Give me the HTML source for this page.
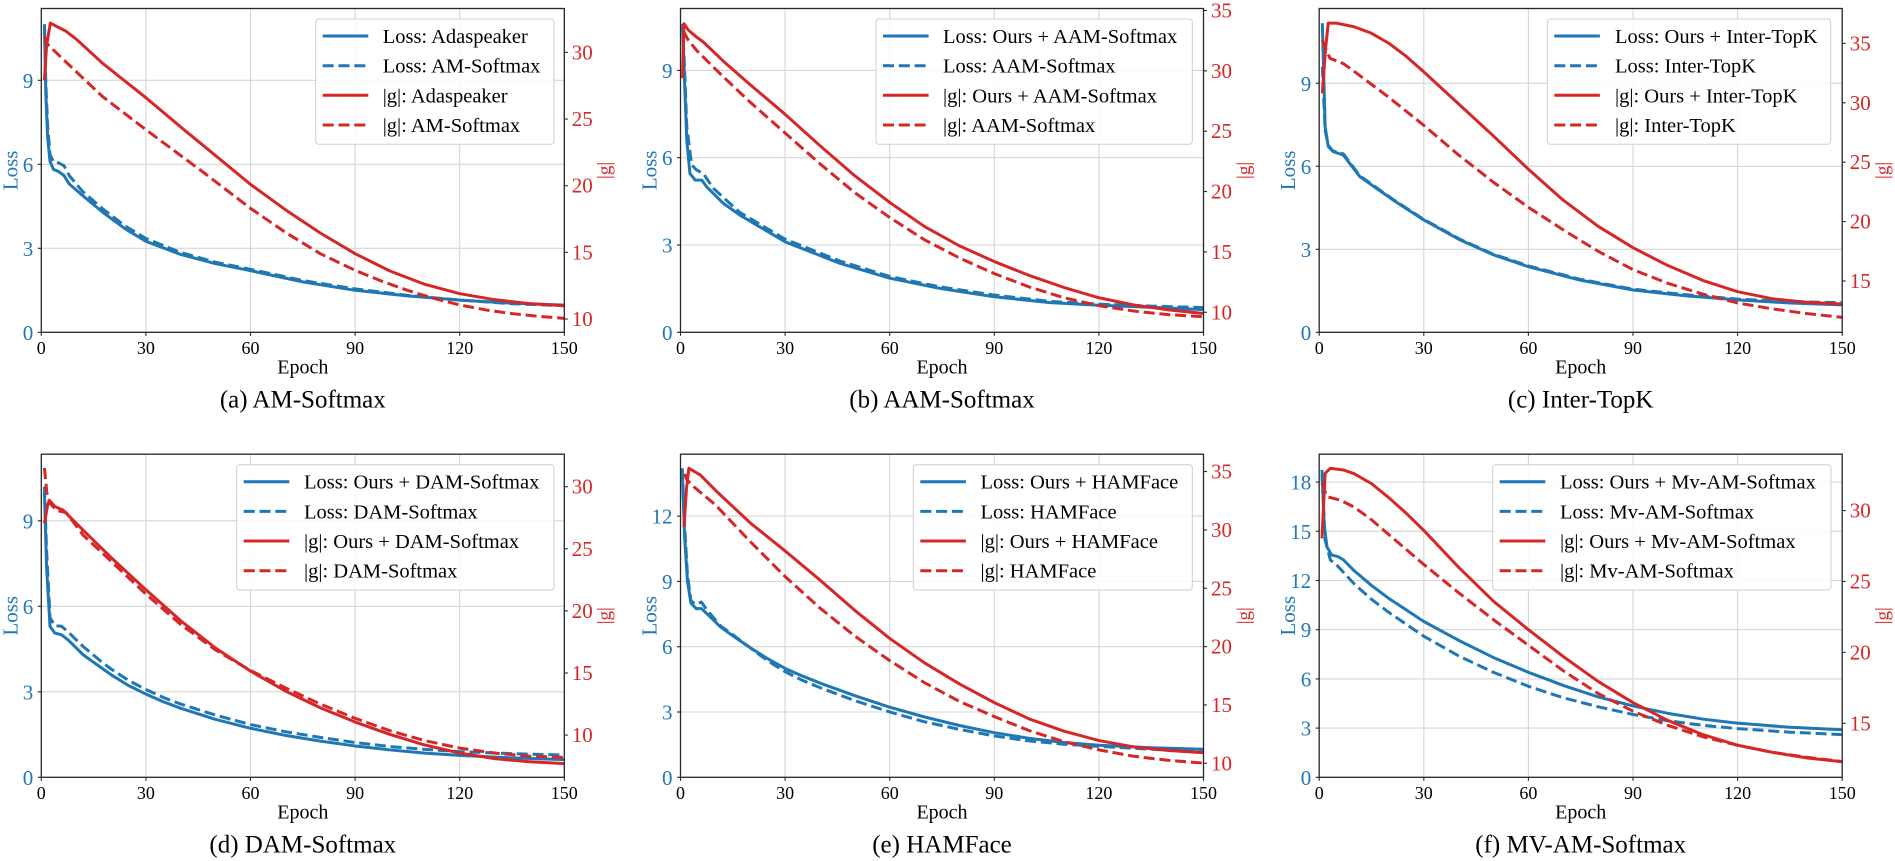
<!DOCTYPE html>
<html><head><meta charset="utf-8"><style>
html,body{margin:0;padding:0;background:#fff;}
svg{display:block;}
text{font-family:"Liberation Serif","Times New Roman",serif;}
.gr{stroke:#d6d6d6;stroke-width:1.1;}
.sp{fill:none;stroke:#262626;stroke-width:1.3;}
.tk{stroke:#262626;stroke-width:1.1;}
.c{fill:none;stroke-width:3;vector-effect:non-scaling-stroke;stroke-linejoin:round;}
.b{stroke:#1f77b4;} .r{stroke:#d62728;}
.d{stroke-dasharray:11 4.8;}
.lb{fill:#1f77b4;font-size:21px;text-anchor:end;}
.lr{fill:#d62728;font-size:21px;}
.xt{fill:#000;font-size:18px;text-anchor:middle;}
.ep{fill:#000;font-size:20px;text-anchor:middle;}
.cap{fill:#000;font-size:25px;text-anchor:middle;}
.yl{fill:#1f77b4;font-size:21px;text-anchor:middle;}
.gl{fill:#d62728;font-size:19px;text-anchor:middle;}
.lg{fill:#fff;fill-opacity:0.85;stroke:#cfcfcf;stroke-width:1;}
.lt{fill:#000;font-size:20.5px;}
.h{stroke-width:3;}
</style></head><body>
<svg width="1895" height="861" viewBox="0 0 1895 861" xmlns="http://www.w3.org/2000/svg">

<!-- ================= PANEL A ================= -->
<g>
<g class="gr">
<line x1="41.3" y1="248.3" x2="564.3" y2="248.3"/><line x1="41.3" y1="164.3" x2="564.3" y2="164.3"/><line x1="41.3" y1="80.3" x2="564.3" y2="80.3"/>
<line x1="145.9" y1="8.5" x2="145.9" y2="332.3"/><line x1="250.5" y1="8.5" x2="250.5" y2="332.3"/><line x1="355.1" y1="8.5" x2="355.1" y2="332.3"/><line x1="459.7" y1="8.5" x2="459.7" y2="332.3"/>
</g>
<g transform="translate(41.3,332.3) scale(3.487,-28)">
<polyline class="c b" points="0.9,11.0 1.3,8.5 1.8,7.0 2.5,6.1 3.5,5.82 5,5.74 6.5,5.6 8,5.3 11.7,4.9 17.5,4.3 24,3.7 30,3.25 40,2.78 50,2.45 60,2.2 75,1.8 90,1.5 105,1.3 120,1.15 135,1.04 150,0.97"/>
<polyline class="c b d" points="0.9,11.0 1.3,8.9 1.8,7.4 2.5,6.35 3.5,6.08 5,6.05 6.5,5.95 8,5.6 11.7,5.05 17.5,4.42 24,3.8 30,3.35 40,2.85 50,2.5 60,2.25 75,1.85 90,1.55 105,1.32 120,1.15 135,1.02 150,0.95"/>
</g>
<g transform="translate(41.3,452.3) scale(3.487,-13.33)">
<polyline class="c r" points="0.9,27.9 1.5,30.5 2.6,32.2 4,32.0 7,31.6 10,31.0 17.5,29.2 30,26.6 40,24.4 50,22.25 60,20.1 70,18.2 80,16.45 90,14.9 100,13.6 110,12.6 120,11.9 130,11.45 140,11.15 150,11.0"/>
<polyline class="c r d" points="0.9,31.2 1.5,30.7 3,30.3 5,29.8 7,29.3 17.5,26.7 30,24.2 47,20.9 60,18.3 70,16.5 80,14.9 90,13.65 97.5,12.85 105,12.15 112.5,11.55 120,11.05 127.5,10.68 135,10.4 142.5,10.2 150,10.05"/>
</g>
<rect class="sp" x="41.3" y="8.5" width="523" height="323.8"/>
<g class="tk">
<line x1="37.8" y1="332.3" x2="41.3" y2="332.3"/><line x1="37.8" y1="248.3" x2="41.3" y2="248.3"/><line x1="37.8" y1="164.3" x2="41.3" y2="164.3"/><line x1="37.8" y1="80.3" x2="41.3" y2="80.3"/>
<line x1="564.3" y1="319" x2="567.8" y2="319"/><line x1="564.3" y1="252.35" x2="567.8" y2="252.35"/><line x1="564.3" y1="185.7" x2="567.8" y2="185.7"/><line x1="564.3" y1="119.05" x2="567.8" y2="119.05"/><line x1="564.3" y1="52.4" x2="567.8" y2="52.4"/>
<line x1="41.3" y1="332.3" x2="41.3" y2="335.8"/><line x1="145.9" y1="332.3" x2="145.9" y2="335.8"/><line x1="250.5" y1="332.3" x2="250.5" y2="335.8"/><line x1="355.1" y1="332.3" x2="355.1" y2="335.8"/><line x1="459.7" y1="332.3" x2="459.7" y2="335.8"/><line x1="564.3" y1="332.3" x2="564.3" y2="335.8"/>
</g>
<text class="lb" x="33.3" y="339.8">0</text><text class="lb" x="33.3" y="255.8">3</text><text class="lb" x="33.3" y="171.8">6</text><text class="lb" x="33.3" y="87.8">9</text>
<text class="lr" x="571.8" y="326">10</text><text class="lr" x="571.8" y="259.35">15</text><text class="lr" x="571.8" y="192.7">20</text><text class="lr" x="571.8" y="126.05">25</text><text class="lr" x="571.8" y="59.4">30</text>
<text class="xt" x="41.3" y="354">0</text><text class="xt" x="145.9" y="354">30</text><text class="xt" x="250.5" y="354">60</text><text class="xt" x="355.1" y="354">90</text><text class="xt" x="459.7" y="354">120</text><text class="xt" x="564.3" y="354">150</text>
<text class="ep" x="302.8" y="373.3">Epoch</text>
<text class="cap" x="302.8" y="407.3">(a) AM-Softmax</text>
<text class="yl" transform="translate(17.3,170.4) rotate(-90)">Loss</text>
<text class="gl" transform="translate(610.6,170.4) rotate(-90)">|g|</text>
<rect class="lg" x="315.7" y="19" width="238.3" height="125.3" rx="3"/>
<line class="h b" x1="322.7" y1="36" x2="368.3" y2="36"/>
<line class="h b d" x1="322.7" y1="65.7" x2="368.3" y2="65.7"/>
<line class="h r" x1="322.7" y1="95.3" x2="368.3" y2="95.3"/>
<line class="h r d" x1="322.7" y1="125" x2="368.3" y2="125"/>
<text class="lt" x="382.7" y="43">Loss: Adaspeaker</text>
<text class="lt" x="382.7" y="72.7">Loss: AM-Softmax</text>
<text class="lt" x="382.7" y="102.3">|g|: Adaspeaker</text>
<text class="lt" x="382.7" y="132">|g|: AM-Softmax</text>
</g>

<!-- ================= PANEL B ================= -->
<g>
<g class="gr">
<line x1="680.5" y1="245" x2="1203.5" y2="245"/><line x1="680.5" y1="157.7" x2="1203.5" y2="157.7"/><line x1="680.5" y1="70.4" x2="1203.5" y2="70.4"/>
<line x1="785.1" y1="8.5" x2="785.1" y2="332.3"/><line x1="889.7" y1="8.5" x2="889.7" y2="332.3"/><line x1="994.3" y1="8.5" x2="994.3" y2="332.3"/><line x1="1098.9" y1="8.5" x2="1098.9" y2="332.3"/>
</g>
<g transform="translate(680.5,332.3) scale(3.487,-29.1)">
<polyline class="c b" points="0.6,10.5 1.2,8.5 1.8,6.6 2.7,5.46 4.2,5.23 6.1,5.23 7.5,5.0 12.3,4.43 17,4.03 30,3.11 45.7,2.37 60,1.86 74.4,1.51 90,1.22 106,1.02 120,0.93 135,0.86 150,0.78"/>
<polyline class="c b d" points="0.6,10.6 1.2,9.0 1.8,7.07 3.2,5.75 4.6,5.58 6.5,5.46 9.4,4.95 17,4.12 30,3.2 45.7,2.45 60,1.92 74.4,1.56 90,1.28 106,1.06 120,0.97 135,0.9 150,0.85"/>
</g>
<g transform="translate(680.5,432.96) scale(3.487,-12.07)">
<polyline class="c r" points="0.6,29.4 1.0,33.9 2.2,33.4 4.6,32.8 6.5,32.4 12.3,30.8 20,28.85 30,26.4 40,23.8 50,21.3 60,19.1 70,17.1 80,15.5 90,14.2 100,13.05 110,12.05 120,11.2 130,10.6 140,10.2 150,9.9"/>
<polyline class="c r d" points="0.8,33.3 2.2,32.56 4.6,31.7 12.3,29.5 20,27.4 30,24.85 40,22.3 50,19.9 60,17.85 70,16.0 80,14.5 90,13.2 100,12.1 110,11.2 120,10.55 130,10.1 140,9.8 150,9.63"/>
</g>
<rect class="sp" x="680.5" y="8.5" width="523" height="323.8"/>
<g class="tk">
<line x1="677" y1="332.3" x2="680.5" y2="332.3"/><line x1="677" y1="245" x2="680.5" y2="245"/><line x1="677" y1="157.7" x2="680.5" y2="157.7"/><line x1="677" y1="70.4" x2="680.5" y2="70.4"/>
<line x1="1203.5" y1="312.26" x2="1207" y2="312.26"/><line x1="1203.5" y1="251.91" x2="1207" y2="251.91"/><line x1="1203.5" y1="191.56" x2="1207" y2="191.56"/><line x1="1203.5" y1="131.21" x2="1207" y2="131.21"/><line x1="1203.5" y1="70.86" x2="1207" y2="70.86"/><line x1="1203.5" y1="10.51" x2="1207" y2="10.51"/>
<line x1="680.5" y1="332.3" x2="680.5" y2="335.8"/><line x1="785.1" y1="332.3" x2="785.1" y2="335.8"/><line x1="889.7" y1="332.3" x2="889.7" y2="335.8"/><line x1="994.3" y1="332.3" x2="994.3" y2="335.8"/><line x1="1098.9" y1="332.3" x2="1098.9" y2="335.8"/><line x1="1203.5" y1="332.3" x2="1203.5" y2="335.8"/>
</g>
<text class="lb" x="672.5" y="339.8">0</text><text class="lb" x="672.5" y="252.5">3</text><text class="lb" x="672.5" y="165.2">6</text><text class="lb" x="672.5" y="77.9">9</text>
<text class="lr" x="1211" y="319.26">10</text><text class="lr" x="1211" y="258.91">15</text><text class="lr" x="1211" y="198.56">20</text><text class="lr" x="1211" y="138.21">25</text><text class="lr" x="1211" y="77.86">30</text><text class="lr" x="1211" y="17.51">35</text>
<text class="xt" x="680.5" y="354">0</text><text class="xt" x="785.1" y="354">30</text><text class="xt" x="889.7" y="354">60</text><text class="xt" x="994.3" y="354">90</text><text class="xt" x="1098.9" y="354">120</text><text class="xt" x="1203.5" y="354">150</text>
<text class="ep" x="942" y="373.3">Epoch</text>
<text class="cap" x="942" y="407.3">(b) AAM-Softmax</text>
<text class="yl" transform="translate(656.5,170.4) rotate(-90)">Loss</text>
<text class="gl" transform="translate(1249.8,170.4) rotate(-90)">|g|</text>
<rect class="lg" x="876" y="19" width="316.3" height="125.3" rx="3"/>
<line class="h b" x1="883" y1="36" x2="928.6" y2="36"/>
<line class="h b d" x1="883" y1="65.7" x2="928.6" y2="65.7"/>
<line class="h r" x1="883" y1="95.3" x2="928.6" y2="95.3"/>
<line class="h r d" x1="883" y1="125" x2="928.6" y2="125"/>
<text class="lt" x="943" y="43">Loss: Ours + AAM-Softmax</text>
<text class="lt" x="943" y="72.7">Loss: AAM-Softmax</text>
<text class="lt" x="943" y="102.3">|g|: Ours + AAM-Softmax</text>
<text class="lt" x="943" y="132">|g|: AAM-Softmax</text>
</g>

<!-- ================= PANEL C ================= -->
<g>
<g class="gr">
<line x1="1319.2" y1="249.3" x2="1842.2" y2="249.3"/><line x1="1319.2" y1="166.3" x2="1842.2" y2="166.3"/><line x1="1319.2" y1="83.3" x2="1842.2" y2="83.3"/>
<line x1="1423.8" y1="8.5" x2="1423.8" y2="332.3"/><line x1="1528.4" y1="8.5" x2="1528.4" y2="332.3"/><line x1="1633" y1="8.5" x2="1633" y2="332.3"/><line x1="1737.6" y1="8.5" x2="1737.6" y2="332.3"/>
</g>
<g transform="translate(1319.2,332.3) scale(3.487,-27.67)">
<polyline class="c b" points="0.9,11.17 1.7,7.43 2.6,6.71 4,6.53 6.9,6.41 11.7,5.62 21.2,4.78 30,4.06 40.4,3.34 50,2.8 60,2.37 74.7,1.89 90,1.53 105,1.32 120,1.17 135,1.06 150,0.99"/>
<polyline class="c b d" points="0.9,9.6 1.7,7.3 2.6,6.75 4,6.55 6.9,6.45 11.7,5.65 21.2,4.8 30,4.08 40.4,3.36 50,2.82 60,2.4 74.7,1.92 90,1.56 105,1.36 120,1.2 135,1.11 150,1.07"/>
</g>
<g transform="translate(1319.2,459.18) scale(3.487,-11.88)">
<polyline class="c r" points="0.9,30.8 1.8,34.5 2.6,36.7 5,36.7 10,36.4 15,35.85 20,35.0 25,33.9 30,32.6 40,29.9 50,27.2 60,24.4 70,21.8 80,19.6 90,17.8 100,16.3 110,15.05 120,14.1 130,13.5 140,13.2 150,13.06"/>
<polyline class="c r d" points="0.9,35.3 1.8,34.6 3.1,33.74 6.9,33.3 10,32.65 20,30.45 30,28.1 40,25.6 50,23.3 60,21.2 70,19.3 80,17.5 90,15.95 100,14.8 110,13.9 120,13.15 130,12.65 140,12.25 150,11.94"/>
</g>
<rect class="sp" x="1319.2" y="8.5" width="523" height="323.8"/>
<g class="tk">
<line x1="1315.7" y1="332.3" x2="1319.2" y2="332.3"/><line x1="1315.7" y1="249.3" x2="1319.2" y2="249.3"/><line x1="1315.7" y1="166.3" x2="1319.2" y2="166.3"/><line x1="1315.7" y1="83.3" x2="1319.2" y2="83.3"/>
<line x1="1842.2" y1="280.98" x2="1845.7" y2="280.98"/><line x1="1842.2" y1="221.58" x2="1845.7" y2="221.58"/><line x1="1842.2" y1="162.18" x2="1845.7" y2="162.18"/><line x1="1842.2" y1="102.78" x2="1845.7" y2="102.78"/><line x1="1842.2" y1="43.38" x2="1845.7" y2="43.38"/>
<line x1="1319.2" y1="332.3" x2="1319.2" y2="335.8"/><line x1="1423.8" y1="332.3" x2="1423.8" y2="335.8"/><line x1="1528.4" y1="332.3" x2="1528.4" y2="335.8"/><line x1="1633" y1="332.3" x2="1633" y2="335.8"/><line x1="1737.6" y1="332.3" x2="1737.6" y2="335.8"/><line x1="1842.2" y1="332.3" x2="1842.2" y2="335.8"/>
</g>
<text class="lb" x="1311.2" y="339.8">0</text><text class="lb" x="1311.2" y="256.8">3</text><text class="lb" x="1311.2" y="173.8">6</text><text class="lb" x="1311.2" y="90.8">9</text>
<text class="lr" x="1849.7" y="287.98">15</text><text class="lr" x="1849.7" y="228.58">20</text><text class="lr" x="1849.7" y="169.18">25</text><text class="lr" x="1849.7" y="109.78">30</text><text class="lr" x="1849.7" y="50.38">35</text>
<text class="xt" x="1319.2" y="354">0</text><text class="xt" x="1423.8" y="354">30</text><text class="xt" x="1528.4" y="354">60</text><text class="xt" x="1633" y="354">90</text><text class="xt" x="1737.6" y="354">120</text><text class="xt" x="1842.2" y="354">150</text>
<text class="ep" x="1580.7" y="373.3">Epoch</text>
<text class="cap" x="1580.7" y="407.3">(c) Inter-TopK</text>
<text class="yl" transform="translate(1295.2,170.4) rotate(-90)">Loss</text>
<text class="gl" transform="translate(1888.5,170.4) rotate(-90)">|g|</text>
<rect class="lg" x="1547.3" y="19" width="283.4" height="125.3" rx="3"/>
<line class="h b" x1="1554.3" y1="36" x2="1599.9" y2="36"/>
<line class="h b d" x1="1554.3" y1="65.7" x2="1599.9" y2="65.7"/>
<line class="h r" x1="1554.3" y1="95.3" x2="1599.9" y2="95.3"/>
<line class="h r d" x1="1554.3" y1="125" x2="1599.9" y2="125"/>
<text class="lt" x="1615" y="43">Loss: Ours + Inter-TopK</text>
<text class="lt" x="1615" y="72.7">Loss: Inter-TopK</text>
<text class="lt" x="1615" y="102.3">|g|: Ours + Inter-TopK</text>
<text class="lt" x="1615" y="132">|g|: Inter-TopK</text>
</g>

<!-- ================= PANEL D ================= -->
<g>
<g class="gr">
<line x1="41.3" y1="691.8" x2="564.3" y2="691.8"/><line x1="41.3" y1="606.3" x2="564.3" y2="606.3"/><line x1="41.3" y1="520.8" x2="564.3" y2="520.8"/>
<line x1="145.9" y1="454.2" x2="145.9" y2="777.3"/><line x1="250.5" y1="454.2" x2="250.5" y2="777.3"/><line x1="355.1" y1="454.2" x2="355.1" y2="777.3"/><line x1="459.7" y1="454.2" x2="459.7" y2="777.3"/>
</g>
<g transform="translate(41.3,777.3) scale(3.487,-28.5)">
<polyline class="c b" points="0.9,10.0 1.5,7.4 2.5,5.29 3.9,5.06 5.8,5.0 7.7,4.82 12,4.3 16.8,3.88 20,3.6 25,3.22 30,2.92 35,2.65 40,2.42 50,2.03 60,1.72 70,1.47 80,1.27 90,1.1 100,0.96 110,0.85 120,0.77 135,0.68 150,0.62"/>
<polyline class="c b d" points="0.9,10.2 1.5,8.0 2.5,5.6 3.9,5.32 5.8,5.3 7.7,5.1 12,4.59 16.8,4.1 20,3.8 25,3.4 30,3.08 35,2.8 40,2.57 50,2.18 60,1.85 70,1.6 80,1.4 90,1.22 100,1.08 110,0.98 120,0.9 135,0.83 150,0.78"/>
</g>
<g transform="translate(41.3,859.27) scale(3.487,-12.42)">
<polyline class="c r" points="0.9,27.05 1.8,28.5 2.3,28.9 3.9,28.4 6.3,28.1 12,26.5 20,24.3 30,21.7 40,19.2 50,17.0 60,15.15 70,13.55 80,12.2 90,11.05 100,10.05 110,9.2 120,8.55 130,8.1 140,7.85 150,7.7"/>
<polyline class="c r d" points="0.9,31.5 1.6,29.5 2.5,28.66 4.3,28.1 7.2,27.9 12,26.1 20,24.0 30,21.35 40,18.9 50,16.85 60,15.2 70,13.8 80,12.5 90,11.35 100,10.35 110,9.55 120,8.95 130,8.55 140,8.3 150,8.2"/>
</g>
<rect class="sp" x="41.3" y="454.2" width="523" height="323.1"/>
<g class="tk">
<line x1="37.8" y1="777.3" x2="41.3" y2="777.3"/><line x1="37.8" y1="691.8" x2="41.3" y2="691.8"/><line x1="37.8" y1="606.3" x2="41.3" y2="606.3"/><line x1="37.8" y1="520.8" x2="41.3" y2="520.8"/>
<line x1="564.3" y1="735.07" x2="567.8" y2="735.07"/><line x1="564.3" y1="672.97" x2="567.8" y2="672.97"/><line x1="564.3" y1="610.87" x2="567.8" y2="610.87"/><line x1="564.3" y1="548.77" x2="567.8" y2="548.77"/><line x1="564.3" y1="486.67" x2="567.8" y2="486.67"/>
<line x1="41.3" y1="777.3" x2="41.3" y2="780.8"/><line x1="145.9" y1="777.3" x2="145.9" y2="780.8"/><line x1="250.5" y1="777.3" x2="250.5" y2="780.8"/><line x1="355.1" y1="777.3" x2="355.1" y2="780.8"/><line x1="459.7" y1="777.3" x2="459.7" y2="780.8"/><line x1="564.3" y1="777.3" x2="564.3" y2="780.8"/>
</g>
<text class="lb" x="33.3" y="784.8">0</text><text class="lb" x="33.3" y="699.3">3</text><text class="lb" x="33.3" y="613.8">6</text><text class="lb" x="33.3" y="528.3">9</text>
<text class="lr" x="571.8" y="742.07">10</text><text class="lr" x="571.8" y="679.97">15</text><text class="lr" x="571.8" y="617.87">20</text><text class="lr" x="571.8" y="555.77">25</text><text class="lr" x="571.8" y="493.67">30</text>
<text class="xt" x="41.3" y="799">0</text><text class="xt" x="145.9" y="799">30</text><text class="xt" x="250.5" y="799">60</text><text class="xt" x="355.1" y="799">90</text><text class="xt" x="459.7" y="799">120</text><text class="xt" x="564.3" y="799">150</text>
<text class="ep" x="302.8" y="818.3">Epoch</text>
<text class="cap" x="302.8" y="852.3">(d) DAM-Softmax</text>
<text class="yl" transform="translate(17.3,615.75) rotate(-90)">Loss</text>
<text class="gl" transform="translate(610.6,615.75) rotate(-90)">|g|</text>
<rect class="lg" x="236.7" y="464.7" width="317.3" height="125.3" rx="3"/>
<line class="h b" x1="243.7" y1="481.7" x2="289.3" y2="481.7"/>
<line class="h b d" x1="243.7" y1="511.4" x2="289.3" y2="511.4"/>
<line class="h r" x1="243.7" y1="541" x2="289.3" y2="541"/>
<line class="h r d" x1="243.7" y1="570.7" x2="289.3" y2="570.7"/>
<text class="lt" x="304" y="488.7">Loss: Ours + DAM-Softmax</text>
<text class="lt" x="304" y="518.4">Loss: DAM-Softmax</text>
<text class="lt" x="304" y="548">|g|: Ours + DAM-Softmax</text>
<text class="lt" x="304" y="577.7">|g|: DAM-Softmax</text>
</g>

<!-- ================= PANEL E ================= -->
<g>
<g class="gr">
<line x1="680.5" y1="712" x2="1203.5" y2="712"/><line x1="680.5" y1="646.7" x2="1203.5" y2="646.7"/><line x1="680.5" y1="581.4" x2="1203.5" y2="581.4"/><line x1="680.5" y1="516.1" x2="1203.5" y2="516.1"/>
<line x1="785.1" y1="454.2" x2="785.1" y2="777.3"/><line x1="889.7" y1="454.2" x2="889.7" y2="777.3"/><line x1="994.3" y1="454.2" x2="994.3" y2="777.3"/><line x1="1098.9" y1="454.2" x2="1098.9" y2="777.3"/>
</g>
<g transform="translate(680.5,777.3) scale(3.487,-21.77)">
<polyline class="c b" points="0.5,14.1 1.2,11 2,9 3,8.0 4.5,7.75 6,7.75 8,7.45 11.5,6.9 15,6.5 20,5.95 25,5.45 30,5.0 35,4.65 40,4.33 50,3.75 60,3.22 70,2.77 80,2.38 90,2.05 100,1.79 110,1.6 120,1.47 135,1.36 150,1.29"/>
<polyline class="c b d" points="0.5,14.2 1.2,11.5 2,9.3 3,8.1 4.5,7.95 6,8.05 7.5,7.7 11.5,6.95 15,6.55 20,5.95 25,5.35 30,4.85 35,4.45 40,4.12 50,3.52 60,3.0 70,2.55 80,2.2 90,1.9 100,1.67 110,1.52 120,1.42 135,1.29 150,1.18"/>
</g>
<g transform="translate(680.5,880) scale(3.487,-11.67)">
<polyline class="c r" points="1,30.27 1.7,33.5 2.4,35.28 5.7,34.7 10,33.4 20,30.6 30,28.2 40,25.7 50,23.1 60,20.7 70,18.6 80,16.8 90,15.2 100,13.8 110,12.75 120,11.95 130,11.4 140,11.1 150,10.9"/>
<polyline class="c r d" points="1.2,34.8 1.8,34.3 3.8,33.7 10,32.15 20,29.0 30,26.0 40,23.3 50,20.9 60,18.8 70,16.9 80,15.3 90,14.0 100,12.8 110,11.85 120,11.15 130,10.6 140,10.25 150,10.02"/>
</g>
<rect class="sp" x="680.5" y="454.2" width="523" height="323.1"/>
<g class="tk">
<line x1="677" y1="777.3" x2="680.5" y2="777.3"/><line x1="677" y1="712" x2="680.5" y2="712"/><line x1="677" y1="646.7" x2="680.5" y2="646.7"/><line x1="677" y1="581.4" x2="680.5" y2="581.4"/><line x1="677" y1="516.1" x2="680.5" y2="516.1"/>
<line x1="1203.5" y1="763.3" x2="1207" y2="763.3"/><line x1="1203.5" y1="704.95" x2="1207" y2="704.95"/><line x1="1203.5" y1="646.6" x2="1207" y2="646.6"/><line x1="1203.5" y1="588.25" x2="1207" y2="588.25"/><line x1="1203.5" y1="529.9" x2="1207" y2="529.9"/><line x1="1203.5" y1="471.55" x2="1207" y2="471.55"/>
<line x1="680.5" y1="777.3" x2="680.5" y2="780.8"/><line x1="785.1" y1="777.3" x2="785.1" y2="780.8"/><line x1="889.7" y1="777.3" x2="889.7" y2="780.8"/><line x1="994.3" y1="777.3" x2="994.3" y2="780.8"/><line x1="1098.9" y1="777.3" x2="1098.9" y2="780.8"/><line x1="1203.5" y1="777.3" x2="1203.5" y2="780.8"/>
</g>
<text class="lb" x="672.5" y="784.8">0</text><text class="lb" x="672.5" y="719.5">3</text><text class="lb" x="672.5" y="654.2">6</text><text class="lb" x="672.5" y="588.9">9</text><text class="lb" x="672.5" y="523.6">12</text>
<text class="lr" x="1211" y="770.3">10</text><text class="lr" x="1211" y="711.95">15</text><text class="lr" x="1211" y="653.6">20</text><text class="lr" x="1211" y="595.25">25</text><text class="lr" x="1211" y="536.9">30</text><text class="lr" x="1211" y="478.55">35</text>
<text class="xt" x="680.5" y="799">0</text><text class="xt" x="785.1" y="799">30</text><text class="xt" x="889.7" y="799">60</text><text class="xt" x="994.3" y="799">90</text><text class="xt" x="1098.9" y="799">120</text><text class="xt" x="1203.5" y="799">150</text>
<text class="ep" x="942" y="818.3">Epoch</text>
<text class="cap" x="942" y="852.3">(e) HAMFace</text>
<text class="yl" transform="translate(656.5,615.75) rotate(-90)">Loss</text>
<text class="gl" transform="translate(1249.8,615.75) rotate(-90)">|g|</text>
<rect class="lg" x="913.3" y="464.7" width="279" height="125.3" rx="3"/>
<line class="h b" x1="920.3" y1="481.7" x2="965.9" y2="481.7"/>
<line class="h b d" x1="920.3" y1="511.4" x2="965.9" y2="511.4"/>
<line class="h r" x1="920.3" y1="541" x2="965.9" y2="541"/>
<line class="h r d" x1="920.3" y1="570.7" x2="965.9" y2="570.7"/>
<text class="lt" x="980.5" y="488.7">Loss: Ours + HAMFace</text>
<text class="lt" x="980.5" y="518.4">Loss: HAMFace</text>
<text class="lt" x="980.5" y="548">|g|: Ours + HAMFace</text>
<text class="lt" x="980.5" y="577.7">|g|: HAMFace</text>
</g>

<!-- ================= PANEL F ================= -->
<g>
<g class="gr">
<line x1="1319.2" y1="728.1" x2="1842.2" y2="728.1"/><line x1="1319.2" y1="678.9" x2="1842.2" y2="678.9"/><line x1="1319.2" y1="629.7" x2="1842.2" y2="629.7"/><line x1="1319.2" y1="580.5" x2="1842.2" y2="580.5"/><line x1="1319.2" y1="531.3" x2="1842.2" y2="531.3"/><line x1="1319.2" y1="482.1" x2="1842.2" y2="482.1"/>
<line x1="1423.8" y1="454.2" x2="1423.8" y2="777.3"/><line x1="1528.4" y1="454.2" x2="1528.4" y2="777.3"/><line x1="1633" y1="454.2" x2="1633" y2="777.3"/><line x1="1737.6" y1="454.2" x2="1737.6" y2="777.3"/>
</g>
<g transform="translate(1319.2,777.3) scale(3.487,-16.4)">
<polyline class="c b" points="0.8,18.74 1.4,15.49 2.2,14.06 3.6,13.55 5.5,13.45 7,13.25 10,12.6 15,11.7 20,10.9 30,9.5 40,8.35 50,7.3 60,6.4 70,5.6 80,4.9 90,4.35 100,3.9 110,3.55 120,3.3 135,3.05 150,2.9"/>
<polyline class="c b d" points="0.8,18.5 1.7,14.47 3.2,13.25 5,12.95 10,11.8 15,10.85 20,10.05 30,8.6 40,7.4 50,6.4 60,5.55 70,4.85 80,4.3 90,3.83 100,3.45 110,3.17 120,2.97 135,2.75 150,2.6"/>
</g>
<g transform="translate(1319.2,935.97) scale(3.487,-14.18)">
<polyline class="c r" points="0.8,28.04 1.7,32.63 3.2,32.98 7,32.86 10,32.6 15,31.9 20,30.9 25,29.8 30,28.6 40,26.0 50,23.6 60,21.6 70,19.7 80,17.95 90,16.45 100,15.2 110,14.2 120,13.45 130,12.95 140,12.55 150,12.29"/>
<polyline class="c r d" points="0.8,31.92 2.2,30.98 6,30.74 10,30.25 15,29.35 20,28.3 30,26.2 40,24.2 50,22.3 60,20.5 70,18.7 80,17.1 90,15.85 100,14.85 110,14.05 120,13.45 130,12.95 140,12.6 150,12.3"/>
</g>
<rect class="sp" x="1319.2" y="454.2" width="523" height="323.1"/>
<g class="tk">
<line x1="1315.7" y1="777.3" x2="1319.2" y2="777.3"/><line x1="1315.7" y1="728.1" x2="1319.2" y2="728.1"/><line x1="1315.7" y1="678.9" x2="1319.2" y2="678.9"/><line x1="1315.7" y1="629.7" x2="1319.2" y2="629.7"/><line x1="1315.7" y1="580.5" x2="1319.2" y2="580.5"/><line x1="1315.7" y1="531.3" x2="1319.2" y2="531.3"/><line x1="1315.7" y1="482.1" x2="1319.2" y2="482.1"/>
<line x1="1842.2" y1="723.27" x2="1845.7" y2="723.27"/><line x1="1842.2" y1="652.37" x2="1845.7" y2="652.37"/><line x1="1842.2" y1="581.47" x2="1845.7" y2="581.47"/><line x1="1842.2" y1="510.57" x2="1845.7" y2="510.57"/>
<line x1="1319.2" y1="777.3" x2="1319.2" y2="780.8"/><line x1="1423.8" y1="777.3" x2="1423.8" y2="780.8"/><line x1="1528.4" y1="777.3" x2="1528.4" y2="780.8"/><line x1="1633" y1="777.3" x2="1633" y2="780.8"/><line x1="1737.6" y1="777.3" x2="1737.6" y2="780.8"/><line x1="1842.2" y1="777.3" x2="1842.2" y2="780.8"/>
</g>
<text class="lb" x="1311.2" y="784.8">0</text><text class="lb" x="1311.2" y="735.6">3</text><text class="lb" x="1311.2" y="686.4">6</text><text class="lb" x="1311.2" y="637.2">9</text><text class="lb" x="1311.2" y="588">12</text><text class="lb" x="1311.2" y="538.8">15</text><text class="lb" x="1311.2" y="489.6">18</text>
<text class="lr" x="1849.7" y="730.27">15</text><text class="lr" x="1849.7" y="659.37">20</text><text class="lr" x="1849.7" y="588.47">25</text><text class="lr" x="1849.7" y="517.57">30</text>
<text class="xt" x="1319.2" y="799">0</text><text class="xt" x="1423.8" y="799">30</text><text class="xt" x="1528.4" y="799">60</text><text class="xt" x="1633" y="799">90</text><text class="xt" x="1737.6" y="799">120</text><text class="xt" x="1842.2" y="799">150</text>
<text class="ep" x="1580.7" y="818.3">Epoch</text>
<text class="cap" x="1580.7" y="852.3">(f) MV-AM-Softmax</text>
<text class="yl" transform="translate(1295.2,615.75) rotate(-90)">Loss</text>
<text class="gl" transform="translate(1888.5,615.75) rotate(-90)">|g|</text>
<rect class="lg" x="1492.7" y="464.7" width="338.3" height="125.3" rx="3"/>
<line class="h b" x1="1499.7" y1="481.7" x2="1545.3" y2="481.7"/>
<line class="h b d" x1="1499.7" y1="511.4" x2="1545.3" y2="511.4"/>
<line class="h r" x1="1499.7" y1="541" x2="1545.3" y2="541"/>
<line class="h r d" x1="1499.7" y1="570.7" x2="1545.3" y2="570.7"/>
<text class="lt" x="1560" y="488.7">Loss: Ours + Mv-AM-Softmax</text>
<text class="lt" x="1560" y="518.4">Loss: Mv-AM-Softmax</text>
<text class="lt" x="1560" y="548">|g|: Ours + Mv-AM-Softmax</text>
<text class="lt" x="1560" y="577.7">|g|: Mv-AM-Softmax</text>
</g>

</svg>
</body></html>
